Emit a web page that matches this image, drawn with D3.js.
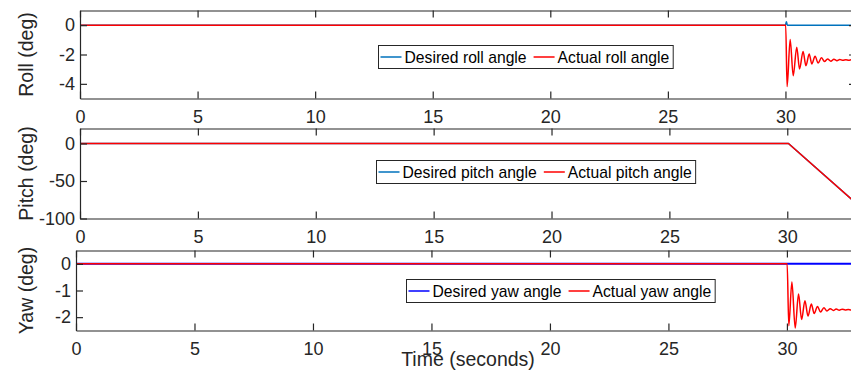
<!DOCTYPE html>
<html>
<head>
<meta charset="utf-8">
<script src="https://cdn.jsdelivr.net/npm/d3@7"></script>
<style>
  html, body { margin: 0; padding: 0; background: #fff; }
  svg { display: block; font-family: "Liberation Sans", Arial, Helvetica, sans-serif; }
</style>
</head>
<body>
<svg id="chart" width="851" height="372"></svg>
<script>
// Time axis
const timeTicks = [0, 5, 10, 15, 20, 25, 30];
const timeDomain = [0, 33];

// Y axes
const rollTicks = [0, -2, -4];
const rollDomain = [-5, 1];
const pitchTicks = [0, -50, -100];
const pitchDomain = [-100, 20];
const yawTicks = [0, -1, -2];
const yawDomain = [-2.5, 0.5];

// Roll angle (deg) vs time (s)
const rollDesired = [[0, 0], [30, 0], [30.04, 0.23], [30.08, 0], [33, 0]];
const rollActual = [
  [0, 0], [30.01, 0], [30.07, -4.19], [30.20, -0.97], [30.33, -3.45], [30.48, -1.50],
  [30.60, -2.99], [30.75, -1.79], [30.87, -2.76], [31.01, -1.96], [31.12, -2.65],
  [31.26, -2.12], [31.39, -2.58], [31.53, -2.23], [31.66, -2.48], [31.79, -2.30],
  [31.93, -2.46], [32.06, -2.32], [32.19, -2.42], [32.31, -2.34], [32.44, -2.40],
  [32.57, -2.35], [32.69, -2.39], [32.82, -2.36], [32.95, -2.38], [33, -2.37]
];

// Pitch angle (deg) vs time (s)
const pitchDesired = [[0, 0], [30.05, 0], [33, -82]];
const pitchActual = [[0, 0], [30.05, 0], [33, -82]];

// Yaw angle (deg) vs time (s)
const yawDesired = [[0, 0], [33, 0]];
const yawActual = [
  [0, 0], [30.01, 0], [30.08, -2.32], [30.21, -0.68], [30.35, -2.41], [30.49, -1.13],
  [30.62, -2.09], [30.76, -1.38], [30.89, -1.96], [31.03, -1.51], [31.15, -1.86],
  [31.29, -1.60], [31.42, -1.81], [31.56, -1.65], [31.69, -1.77], [31.83, -1.68],
  [31.96, -1.75], [32.08, -1.69], [32.21, -1.74], [32.33, -1.70], [32.46, -1.73],
  [32.59, -1.71], [32.71, -1.73], [32.84, -1.72], [32.97, -1.72], [33, -1.72]
];

const legendRoll = ["Desired roll angle", "Actual roll angle"];
const legendPitch = ["Desired pitch angle", "Actual pitch angle"];
const legendYaw = ["Desired yaw angle", "Actual yaw angle"];

const AXIS = "#262626";
const RED = "#ff0000";

const panels = [
  { label: "Roll (deg)", ticks: rollTicks, domain: rollDomain, curve: d3.curveMonotoneX,
    desired: rollDesired, actual: rollActual, desiredColor: "#0072bd", desiredWidth: 1.5,
    legend: legendRoll, box: { left: 80, right: 856, top: 10.5, bottom: 98.5 },
    legendPos: { x: 378.5, y: 45.5 } },
  { label: "Pitch (deg)", ticks: pitchTicks, domain: pitchDomain, curve: d3.curveLinear,
    desired: pitchDesired, actual: pitchActual, desiredColor: "#0072bd", desiredWidth: 1.5,
    legend: legendPitch, box: { left: 80, right: 858, top: 128.5, bottom: 218.5 },
    legendPos: { x: 376.5, y: 160.5 } },
  { label: "Yaw (deg)", ticks: yawTicks, domain: yawDomain, curve: d3.curveMonotoneX,
    desired: yawDesired, actual: yawActual, desiredColor: "#0000ff", desiredWidth: 2,
    legend: legendYaw, box: { left: 76, right: 858, top: 250.5, bottom: 330.5 },
    legendPos: { x: 406.5, y: 279.5 } }
];

const svg = d3.select("#chart");
const tickFont = 18;

panels.forEach((p, i) => {
  const b = p.box;
  const x = d3.scaleLinear().domain(timeDomain).range([b.left, b.right]);
  const y = d3.scaleLinear().domain(p.domain).range([b.bottom, b.top]);
  const g = svg.append("g");

  // white plot area
  g.append("rect").attr("x", b.left).attr("y", b.top)
    .attr("width", b.right - b.left).attr("height", b.bottom - b.top).attr("fill", "#fff");

  // clip
  const clipId = "clip" + i;
  svg.append("clipPath").attr("id", clipId).append("rect")
    .attr("x", b.left).attr("y", b.top).attr("width", b.right - b.left).attr("height", b.bottom - b.top);

  const line = d3.line().x(d => x(d[0])).y(d => y(d[1])).curve(p.curve);
  const plot = g.append("g").attr("clip-path", `url(#${clipId})`);
  plot.append("path").datum(p.desired).attr("d", line).attr("fill", "none")
    .attr("stroke", p.desiredColor).attr("stroke-width", p.desiredWidth);
  plot.append("path").datum(p.actual).attr("d", line).attr("fill", "none")
    .attr("stroke", RED).attr("stroke-width", 1.5).attr("stroke-linejoin", "round");

  // axes (ticks point inward, box on all four sides)
  const styleAxis = sel => {
    sel.selectAll("path.domain").attr("stroke", AXIS).attr("stroke-width", 1.2);
    sel.selectAll(".tick line").attr("stroke", AXIS).attr("stroke-width", 1.2);
    sel.selectAll(".tick text").attr("fill", AXIS).attr("font-size", tickFont)
      .attr("font-family", "'Liberation Sans', Arial, Helvetica, sans-serif");
  };
  g.append("g").attr("transform", `translate(0,${b.bottom})`)
    .call(d3.axisBottom(x).tickValues(timeTicks).tickSizeInner(-7).tickSizeOuter(0)
      .tickPadding(11.5).tickFormat(d => String(d)))
    .call(styleAxis);
  g.append("g").attr("transform", `translate(0,${b.top})`)
    .call(d3.axisTop(x).tickValues(timeTicks).tickSizeInner(-7).tickSizeOuter(0).tickFormat(""))
    .call(styleAxis);
  g.append("g").attr("transform", `translate(${b.left},0)`)
    .call(d3.axisLeft(y).tickValues(p.ticks).tickSizeInner(-7).tickSizeOuter(0)
      .tickPadding(5).tickFormat(d => String(d)))
    .call(styleAxis);
  g.append("g").attr("transform", `translate(${b.right},0)`)
    .call(d3.axisRight(y).tickValues(p.ticks).tickSizeInner(-7).tickSizeOuter(0).tickFormat(""))
    .call(styleAxis);

  // y label
  g.append("text")
    .attr("transform", `translate(32.5,${(b.top + b.bottom) / 2}) rotate(-90)`)
    .attr("text-anchor", "middle").attr("font-size", 19.5).attr("fill", AXIS)
    .text(p.label);

  // legend
  const lg = svg.append("g").attr("transform", `translate(${p.legendPos.x},${p.legendPos.y})`);
  const boxRect = lg.append("rect").attr("x", 0).attr("y", 0).attr("height", 23)
    .attr("fill", "#fff").attr("stroke", AXIS).attr("stroke-width", 1);
  const fs = 15.7, baseY = 17;
  let cx = 2;
  const items = [[p.legend[0], p.desiredColor], [p.legend[1], RED]];
  items.forEach(([txt, col], k) => {
    lg.append("line").attr("x1", cx).attr("x2", cx + 21).attr("y1", 11.5).attr("y2", 11.5)
      .attr("stroke", col).attr("stroke-width", 1.5);
    cx += 24;
    const t = lg.append("text").attr("x", cx).attr("y", baseY).attr("font-size", fs)
      .attr("fill", "#000").text(txt);
    cx += t.node().getComputedTextLength();
    cx += (k === 0) ? 7 : 4;
  });
  boxRect.attr("width", cx);
});

// shared x label
svg.append("text").attr("x", 468).attr("y", 366).attr("text-anchor", "middle")
  .attr("font-size", 19.5).attr("fill", AXIS).text("Time (seconds)");
</script>
</body>
</html>
